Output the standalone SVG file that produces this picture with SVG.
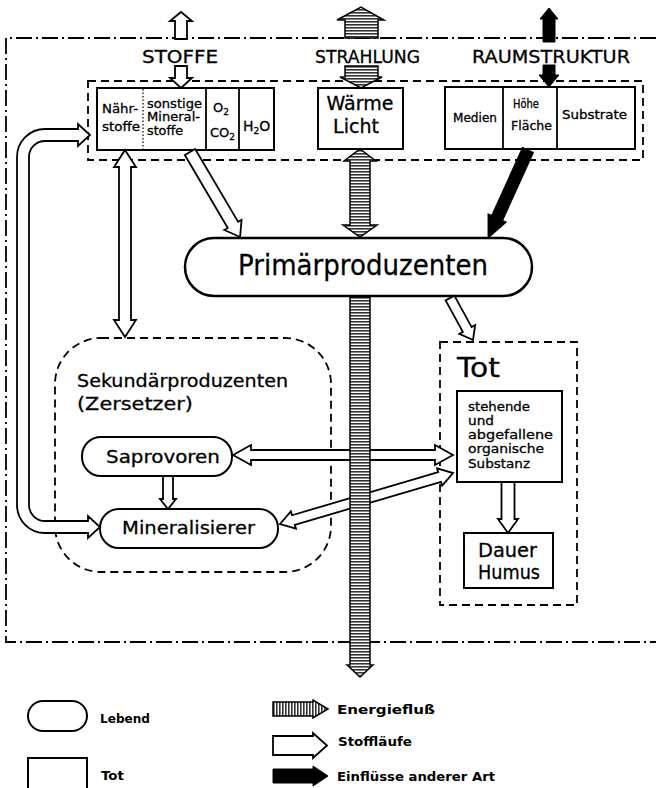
<svg xmlns="http://www.w3.org/2000/svg" width="656" height="788" viewBox="0 0 656 788">
<defs>
<pattern id="hs" width="6" height="3" patternUnits="userSpaceOnUse"><rect width="6" height="3" fill="#fff"/><rect width="6" height="1.6" fill="#333"/></pattern>
<pattern id="vs" width="3" height="6" patternUnits="userSpaceOnUse"><rect width="3" height="6" fill="#fff"/><rect width="1.6" height="6" fill="#333"/></pattern>
</defs>
<style>
text{font-family:"DejaVu Sans","Liberation Sans",sans-serif;fill:#000;stroke:#000;stroke-width:0.3}
.lg{font-weight:bold;stroke-width:0}
.box{fill:#fff;stroke:#000;stroke-width:2}
.dash{fill:none;stroke:#000;stroke-width:1.8;stroke-dasharray:8 5}
.hollow{fill:#fff;stroke:#000;stroke-width:1.8;stroke-linejoin:miter}
.energy{fill:url(#hs);stroke:#000;stroke-width:1.5}
.black{fill:#000;stroke:#000;stroke-width:1}
.div{stroke:#000;stroke-width:1.8}
</style>
<rect width="656" height="788" fill="#fff"/>
<g id="border">
<path d="M656,38 H6 V642 H656" fill="none" stroke="#000" stroke-width="1.8" stroke-dasharray="16 4 2 4"/>
<text x="142" y="63" font-size="18" textLength="76" lengthAdjust="spacingAndGlyphs">STOFFE</text>
<text x="315" y="63" font-size="18" textLength="105" lengthAdjust="spacingAndGlyphs">STRAHLUNG</text>
<text x="472" y="63" font-size="18" textLength="158" lengthAdjust="spacingAndGlyphs">RAUMSTRUKTUR</text>
</g>
<g id="umwelt">
<rect class="dash" x="88" y="81" width="555" height="79"/>
</g>
<g id="stoffe-box">
<rect class="box" x="97" y="88" width="177" height="62"/>
<line x1="143" y1="89" x2="143" y2="149" stroke="#000" stroke-width="1.2" stroke-dasharray="1.5 2"/>
<line class="div" x1="206" y1="88" x2="206" y2="150"/>
<line class="div" x1="239" y1="88" x2="239" y2="150"/>
<text x="102" y="113" font-size="12" textLength="36" lengthAdjust="spacingAndGlyphs">Nähr-</text>
<text x="102" y="131" font-size="12" textLength="38" lengthAdjust="spacingAndGlyphs">stoffe</text>
<text x="147" y="108" font-size="12" textLength="55" lengthAdjust="spacingAndGlyphs">sonstige</text>
<text x="147" y="121" font-size="12" textLength="53" lengthAdjust="spacingAndGlyphs">Mineral-</text>
<text x="147" y="135" font-size="12" textLength="36" lengthAdjust="spacingAndGlyphs">stoffe</text>
<text x="213" y="112" font-size="13">O<tspan font-size="9" dy="3">2</tspan></text>
<text x="210" y="137" font-size="13">CO<tspan font-size="9" dy="3">2</tspan></text>
<text x="243" y="131" font-size="14">H<tspan font-size="9" dy="3">2</tspan><tspan dy="-3">O</tspan></text>
</g>
<g id="strahlung-box">
<rect class="box" x="318" y="88" width="85" height="61"/>
<text x="360" y="110" font-size="19" text-anchor="middle">Wärme</text>
<text x="356" y="133" font-size="19" text-anchor="middle">Licht</text>
</g>
<g id="raum-box">
<rect class="box" x="445" y="87" width="190" height="62"/>
<line class="div" x1="503" y1="87" x2="503" y2="149"/>
<line class="div" x1="557" y1="87" x2="557" y2="149"/>
<text x="453" y="122" font-size="11.5" textLength="44" lengthAdjust="spacingAndGlyphs">Medien</text>
<text x="513" y="108" font-size="11.5" textLength="26" lengthAdjust="spacingAndGlyphs">Höhe</text>
<text x="511" y="130" font-size="11.5" textLength="41" lengthAdjust="spacingAndGlyphs">Fläche</text>
<text x="562" y="119" font-size="11.5" textLength="65" lengthAdjust="spacingAndGlyphs">Substrate</text>
</g>
<g id="primaer">
<rect x="185" y="238" width="347" height="58" rx="29" fill="#fff" stroke="#000" stroke-width="2.5"/>
<text x="238" y="275" font-size="29" textLength="250" lengthAdjust="spacingAndGlyphs">Primärproduzenten</text>
</g>
<g id="sekundaer">
<rect class="dash" x="55" y="338" width="276" height="234" rx="46"/>
<text x="77" y="387" font-size="18" textLength="211" lengthAdjust="spacingAndGlyphs">Sekundärproduzenten</text>
<text x="77" y="410" font-size="18" textLength="116" lengthAdjust="spacingAndGlyphs">(Zersetzer)</text>
</g>
<g id="saprovoren">
<rect x="82" y="437" width="150" height="39" rx="19" fill="#fff" stroke="#000" stroke-width="2"/>
<text x="106" y="463" font-size="18" textLength="114" lengthAdjust="spacingAndGlyphs">Saprovoren</text>
</g>
<g id="mineralisierer">
<rect x="100" y="509" width="178" height="39" rx="19" fill="#fff" stroke="#000" stroke-width="2"/>
<text x="122" y="534" font-size="18" textLength="133" lengthAdjust="spacingAndGlyphs">Mineralisierer</text>
</g>
<g id="tot">
<rect class="dash" x="440" y="342" width="137" height="263"/>
<text x="457" y="377" font-size="27" textLength="43" lengthAdjust="spacingAndGlyphs">Tot</text>
</g>
<g id="substanz">
<rect class="box" x="457" y="391" width="105" height="91"/>
<text x="468" y="411" font-size="12.5" textLength="62" lengthAdjust="spacingAndGlyphs">stehende</text>
<text x="468" y="425" font-size="12.5" textLength="26" lengthAdjust="spacingAndGlyphs">und</text>
<text x="468" y="439" font-size="12.5" textLength="85" lengthAdjust="spacingAndGlyphs">abgefallene</text>
<text x="468" y="453" font-size="12.5" textLength="76" lengthAdjust="spacingAndGlyphs">organische</text>
<text x="468" y="468" font-size="12.5" textLength="62" lengthAdjust="spacingAndGlyphs">Substanz</text>
</g>
<g id="dauerhumus">
<rect class="box" x="464" y="533" width="89" height="55"/>
<text x="478" y="557" font-size="20" textLength="59" lengthAdjust="spacingAndGlyphs">Dauer</text>
<text x="478" y="579" font-size="20" textLength="62" lengthAdjust="spacingAndGlyphs">Humus</text>
</g>
<g id="connectors">
<polygon class="hollow" points="175,39 175,21 170,21 181,12 192,21 187,21 187,39"/>
<polygon class="hollow" points="175,66 175,78 170,78 181,88 192,78 187,78 187,66"/>
<polygon class="hollow" transform="translate(190,152) rotate(59.5)" points="0,-6 84.6,-6 84.6,-10 98.6,0 84.6,10 84.6,6 0,6"/>
<polygon class="hollow" points="125,150 136,167 131,167 131,320 136,320 125,337 114,320 119,320 119,167 114,167"/>
<path class="hollow" d="M78,129 H45 A28,28 0 0 0 17,157 V505 A28,28 0 0 0 45,533 H88 V538 L100,527 L88,516 V521 H45 A16,16 0 0 1 29,505 V157 A16,16 0 0 1 45,141 H78 V146 L90,135 L78,124 Z"/>
<polygon class="hollow" points="233,455 251,445 251,450 435,450 435,445 453,455 435,465 435,460 251,460 251,465"/>
<polygon class="hollow" transform="translate(280,524) rotate(-16.4)" points="0,0 14,-9 14,-5 166.4,-5 166.4,-9 180.4,0 166.4,9 166.4,5 14,5 14,9"/>
<polygon class="hollow" points="163,476 163,499 160,499 168,509 176,499 173,499 173,476"/>
<polygon class="hollow" transform="translate(450,298) rotate(61.3)" points="0,-5 35.9,-5 35.9,-9 47.9,0 35.9,9 35.9,5 0,5"/>
<polygon class="hollow" points="501.5,482 501.5,519 498,519 508,533 518,519 514.5,519 514.5,482"/>
<polygon class="energy" points="345,38 345,20 337,20 361,7 384,20 378,20 378,38"/>
<polygon class="energy" points="345,66 345,77 340,77 361,88 382,77 378,77 378,66"/>
<polygon class="energy" points="360,149 376,161 370,161 370,225 377,225 360,237 343,225 350,225 350,161 344,161"/>
<polygon class="energy" points="350,297 350,665 347,665 360,677 373,665 370,665 370,297"/>
<polygon class="black" points="543,42 543,19 540,19 549,8 558,19 555,19 555,42"/>
<polygon class="black" points="543,65 543,75 539,75 549,87 559,75 555,75 555,65"/>
<polygon class="black" transform="translate(528,150) rotate(114.4)" points="0,-6 74.7,-6 74.7,-10 96.7,0 74.7,10 74.7,6 0,6"/>
</g>
<g id="legend">
<rect x="28" y="701" width="59" height="30" rx="15" fill="#fff" stroke="#000" stroke-width="2"/>
<text class="lg" x="100" y="723" font-size="12.5" textLength="50" lengthAdjust="spacingAndGlyphs">Lebend</text>
<rect x="28" y="758" width="59" height="36" fill="#fff" stroke="#000" stroke-width="2"/>
<text class="lg" x="101" y="780" font-size="12.5" textLength="23" lengthAdjust="spacingAndGlyphs">Tot</text>
<polygon points="273,702 313,702 313,700 328,709 313,718 313,716 273,716" fill="url(#vs)" stroke="#000" stroke-width="1.5"/>
<text class="lg" x="337" y="714" font-size="12.5" textLength="98" lengthAdjust="spacingAndGlyphs">Energiefluß</text>
<polygon class="hollow" points="273,736 313,736 313,733 327,745.5 313,758 313,755 273,755"/>
<text class="lg" x="338" y="746" font-size="12.5" textLength="74" lengthAdjust="spacingAndGlyphs">Stoffläufe</text>
<polygon class="black" points="273,769 313,769 313,766 328,776 313,786 313,783 273,783"/>
<text class="lg" x="337" y="781" font-size="12.5" textLength="158" lengthAdjust="spacingAndGlyphs">Einflüsse anderer Art</text>
</g>
</svg>
